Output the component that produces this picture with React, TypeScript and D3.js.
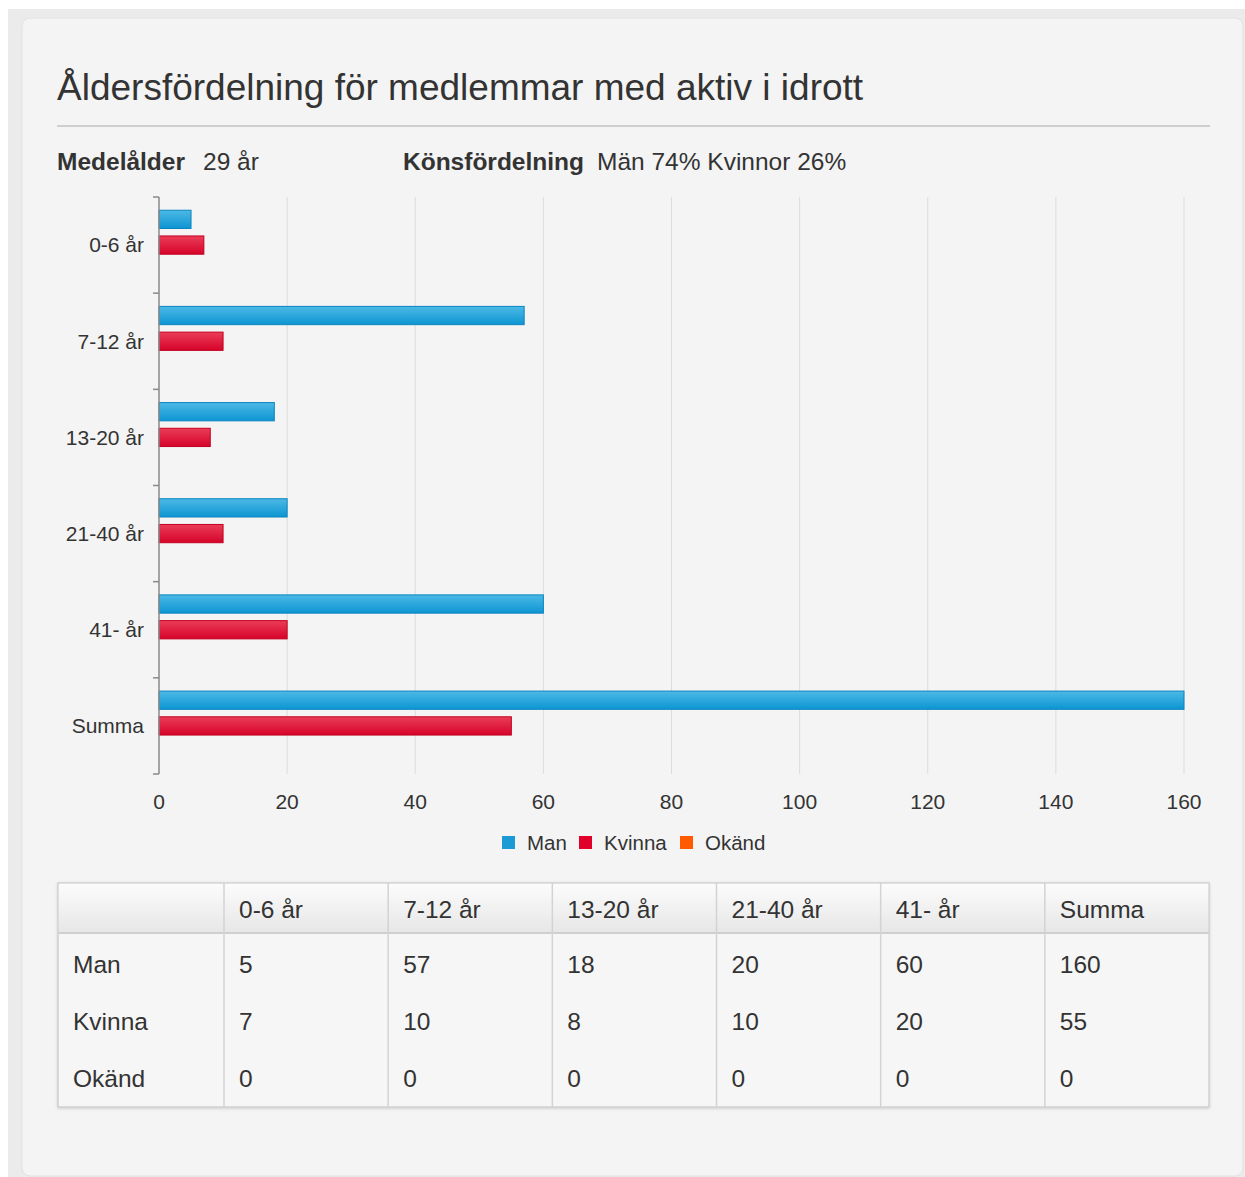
import { useEffect } from 'react';
import * as d3 from 'd3';

const categories = ['0-6 år', '7-12 år', '13-20 år', '21-40 år', '41- år', 'Summa'];
const seriesNames = ['Man', 'Kvinna', 'Okänd'];
const manValues = [5, 57, 18, 20, 60, 160];
const kvinnaValues = [7, 10, 8, 10, 20, 55];
const okandValues = [0, 0, 0, 0, 0, 0];
const xTicks = [0, 20, 40, 60, 80, 100, 120, 140, 160];

const FONT = '"Liberation Sans", Arial, Helvetica, sans-serif';
const TEXT = '#333';

const seriesColor: Record<string, string> = { Man: '#1b9ad6', Kvinna: '#e0002a', Okänd: '#ff5a00' };
const seriesStroke: Record<string, string> = { Man: '#0a85c0', Kvinna: '#c2001f', Okänd: '#e04e00' };
const seriesGrad: Record<string, string> = { Man: 'gradMan', Kvinna: 'gradKvinna', Okänd: 'gradOkand' };

export default function App() {
  useEffect(() => {
    document.body.style.margin = '0';
    document.body.style.background = '#fff';
  }, []);

  const width = 1245;
  const height = 1177;
  const plot = { left: 159, right: 1184, top: 197, bottom: 774 };

  const x = d3.scaleLinear().domain([0, 160]).range([plot.left, plot.right]);
  const y0 = d3.scaleBand<string>().domain(categories).range([plot.top, plot.bottom]);
  const bw = y0.bandwidth();
  // three series slots per category (Okänd is all zeros, so its slot stays empty)
  const y1 = d3
    .scaleBand<string>()
    .domain(seriesNames)
    .range([9.5, bw - 9.5])
    .paddingInner(0.29)
    .paddingOuter(0.145);

  const rows = [
    { name: 'Man', values: manValues },
    { name: 'Kvinna', values: kvinnaValues },
    { name: 'Okänd', values: okandValues },
  ];

  // table layout: first column a bit wider
  const tableCols = ['', ...categories];
  const colEdges = [58, 224, ...d3.range(1, 6).map((i) => 224 + (i * (1209 - 224)) / 6), 1209];
  const tableTop = 883;
  const headerBottom = 933;
  const tableBottom = 1107;
  const rowY = d3.scalePoint<string>().domain(seriesNames).range([964, 1078]);

  const legendItems = [
    { name: 'Man', sx: 502, tx: 527 },
    { name: 'Kvinna', sx: 579, tx: 604 },
    { name: 'Okänd', sx: 680, tx: 705 },
  ];

  return (
    <svg width={width} height={height} style={{ display: 'block' }} fontFamily={FONT}>
      <defs>
        <linearGradient id="gradMan" x1="0" y1="0" x2="0" y2="1">
          <stop offset="0" stopColor="#4cb9e6" />
          <stop offset="1" stopColor="#0d95d2" />
        </linearGradient>
        <linearGradient id="gradKvinna" x1="0" y1="0" x2="0" y2="1">
          <stop offset="0" stopColor="#ea3d58" />
          <stop offset="1" stopColor="#d6032a" />
        </linearGradient>
        <linearGradient id="gradOkand" x1="0" y1="0" x2="0" y2="1">
          <stop offset="0" stopColor="#ff7a33" />
          <stop offset="1" stopColor="#ff5a00" />
        </linearGradient>
        <linearGradient id="gradHead" x1="0" y1="0" x2="0" y2="1">
          <stop offset="0" stopColor="#fcfcfc" />
          <stop offset="1" stopColor="#e6e6e6" />
        </linearGradient>
        <filter id="tableShadow" x="-5%" y="-10%" width="110%" height="120%">
          <feDropShadow dx="0" dy="1" stdDeviation="1.5" floodColor="#000" floodOpacity="0.18" />
        </filter>
      </defs>

      {/* page backdrop + card */}
      <rect x={0} y={0} width={width} height={height} fill="#fff" />
      <rect x={8} y={9} width={width - 8} height={height - 9} fill="#ebebeb" />
      <rect x={22} y={18} width={1221} height={1158} rx={8} fill="#f4f4f4" stroke="#e2e2e2" />

      {/* title */}
      <text x={57} y={100} fontSize={37} fill={TEXT}>
        Åldersfördelning för medlemmar med aktiv i idrott
      </text>
      <line x1={57} x2={1210} y1={126} y2={126} stroke="#cfcfcf" strokeWidth={2} />

      {/* summary */}
      <text y={170} fontSize={24.5} fill={TEXT}>
        <tspan x={57} fontWeight="bold">Medelålder</tspan>
        <tspan x={203}>29 år</tspan>
        <tspan x={403} fontWeight="bold">Könsfördelning</tspan>
        <tspan x={597}>Män 74% Kvinnor 26%</tspan>
      </text>

      {/* grid */}
      {xTicks.slice(1).map((t) => (
        <line key={t} x1={x(t)} x2={x(t)} y1={plot.top} y2={plot.bottom} stroke="#dcdcdc" strokeWidth={1} />
      ))}

      {/* bars */}
      {categories.map((c, i) => (
        <g key={c} transform={`translate(0,${y0(c)})`}>
          {rows.map((r) =>
            r.values[i] > 0 ? (
              <rect
                key={r.name}
                x={x(0)}
                y={y1(r.name)}
                width={x(r.values[i]) - x(0)}
                height={y1.bandwidth()}
                fill={`url(#${seriesGrad[r.name]})`}
                stroke={seriesStroke[r.name]}
                strokeWidth={1}
              />
            ) : null,
          )}
        </g>
      ))}

      {/* y axis */}
      <line x1={plot.left} x2={plot.left} y1={plot.top} y2={plot.bottom} stroke="#8a8a8a" strokeWidth={1.5} />
      {[...categories.map((c) => y0(c)!), plot.bottom].map((v, i) => (
        <line key={i} x1={plot.left - 6} x2={plot.left} y1={v} y2={v} stroke="#8a8a8a" strokeWidth={1.5} />
      ))}
      {categories.map((c) => (
        <text
          key={c}
          x={144}
          y={y0(c)! + bw / 2}
          dy="0.35em"
          textAnchor="end"
          fontSize={21}
          fill={TEXT}
        >
          {c}
        </text>
      ))}

      {/* x tick labels */}
      {xTicks.map((t) => (
        <text key={t} x={x(t)} y={809} textAnchor="middle" fontSize={21} fill={TEXT}>
          {t}
        </text>
      ))}

      {/* legend */}
      {legendItems.map((l) => (
        <g key={l.name}>
          <rect x={l.sx} y={836} width={13} height={13} fill={seriesColor[l.name]} />
          <text x={l.tx} y={850} fontSize={20.5} fill={TEXT}>
            {l.name}
          </text>
        </g>
      ))}

      {/* table */}
      <g filter="url(#tableShadow)">
        <rect x={58} y={tableTop} width={1151} height={tableBottom - tableTop} fill="#f6f6f6" stroke="#d0d0d0" />
      </g>
      <rect x={58.5} y={tableTop + 0.5} width={1150} height={headerBottom - tableTop} fill="url(#gradHead)" />
      <line x1={58} x2={1209} y1={headerBottom} y2={headerBottom} stroke="#cfcfcf" strokeWidth={2} />
      {colEdges.slice(1, -1).map((cx, i) => (
        <line key={i} x1={cx} x2={cx} y1={tableTop} y2={tableBottom} stroke="#d3d3d3" strokeWidth={1.5} />
      ))}
      <rect x={58} y={tableTop} width={1151} height={tableBottom - tableTop} fill="none" stroke="#d0d0d0" />
      {tableCols.map((c, i) => (
        <text key={i} x={colEdges[i] + 15} y={909} dy="0.35em" fontSize={24.5} fill={TEXT}>
          {c}
        </text>
      ))}
      {rows.map((r) => (
        <g key={r.name}>
          <text x={colEdges[0] + 15} y={rowY(r.name)} dy="0.35em" fontSize={24.5} fill={TEXT}>
            {r.name}
          </text>
          {r.values.map((v, i) => (
            <text key={i} x={colEdges[i + 1] + 15} y={rowY(r.name)} dy="0.35em" fontSize={24.5} fill={TEXT}>
              {v}
            </text>
          ))}
        </g>
      ))}
    </svg>
  );
}
